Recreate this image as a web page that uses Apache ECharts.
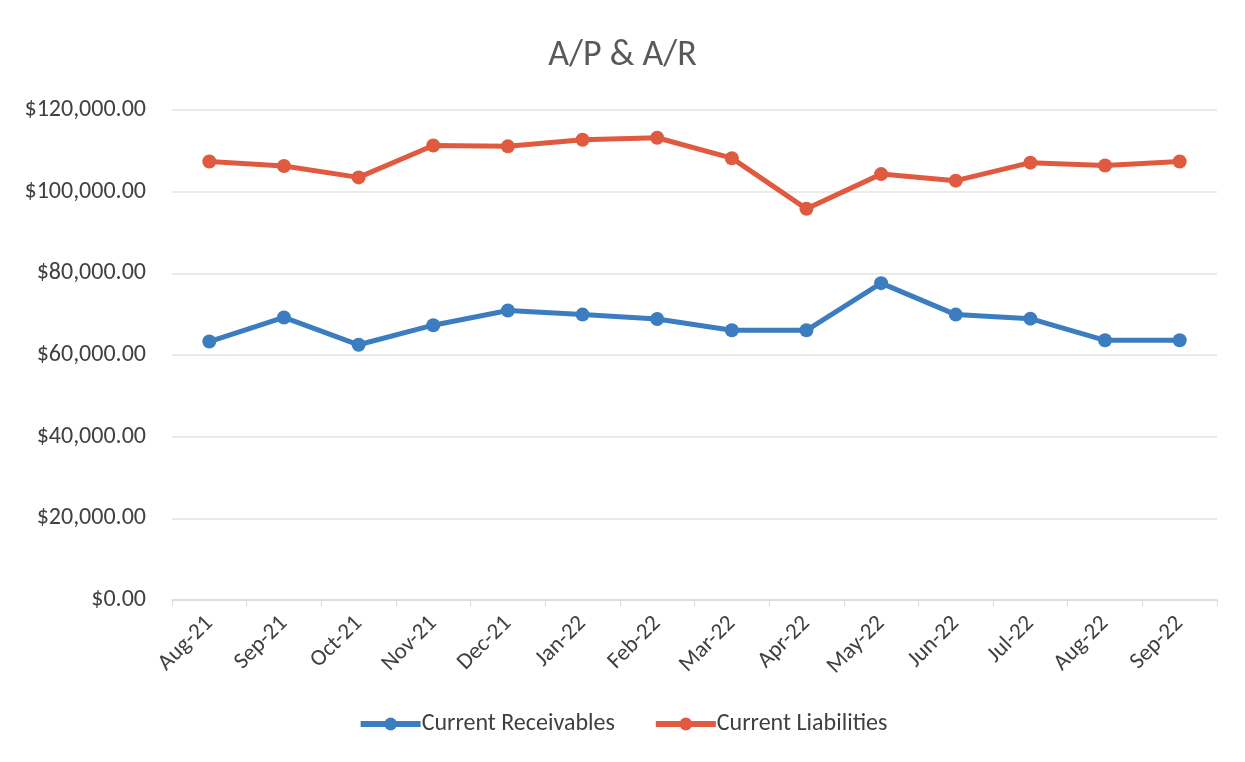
<!DOCTYPE html>
<html><head><meta charset="utf-8">
<script src="https://cdn.jsdelivr.net/npm/echarts@6/dist/echarts.min.js"></script>
<style>html,body{margin:0;padding:0;background:#fff}#c{width:1245px;height:762px}</style>
</head><body><div id="c"></div>
<script>
const categories = ['Aug-21','Sep-21','Oct-21','Nov-21','Dec-21','Jan-22','Feb-22','Mar-22','Apr-22','May-22','Jun-22','Jul-22','Aug-22','Sep-22'];
const receivables = [63300, 69200, 62500, 67300, 70900, 69900, 68800, 66050, 66050, 77600, 69900, 68900, 63600, 63600];
const liabilities = [107400, 106300, 103500, 111300, 111100, 112700, 113200, 108200, 95800, 104300, 102700, 107100, 106400, 107400];
const yTicks = { min: 0, max: 120000, interval: 20000 };

const font = 'Carlito, Calibri, "Open Sans", "Noto Sans", sans-serif';
function money(v){ return '$' + v.toLocaleString('en-US',{minimumFractionDigits:2, maximumFractionDigits:2}); }

const chart = echarts.init(document.getElementById('c'));
chart.setOption({
  backgroundColor: '#ffffff',
  title: { text: 'A/P & A/R', left: 'center', top: 33, textStyle: { fontFamily: font, fontSize: 36, fontWeight: 'normal', color: '#595959' } },
  grid: { left: 172, right: 28, top: 110, bottom: 162 },
  legend: {
    top: 707, left: 'center', itemWidth: 60, itemHeight: 16, itemGap: 38,
    lineStyle: { width: 6 },
    textStyle: { fontFamily: font, fontSize: 24, color: '#404040', padding: [0,0,0,-4] },
    data: ['Current Receivables', 'Current Liabilities']
  },
  xAxis: {
    type: 'category', data: categories, boundaryGap: true,
    axisLine: { lineStyle: { color: '#d9d9d9', width: 1.5 } },
    axisTick: { show: true, length: 6, lineStyle: { color: '#d9d9d9' } },
    axisLabel: { rotate: 45, fontFamily: font, fontSize: 23, color: '#404040', margin: 20, interval: 0 }
  },
  yAxis: {
    type: 'value', min: yTicks.min, max: yTicks.max, interval: yTicks.interval,
    axisLine: { show: false }, axisTick: { show: false },
    splitLine: { lineStyle: { color: '#e3e3e3', width: 1.5 } },
    axisLabel: { formatter: money, fontFamily: font, fontSize: 24, color: '#404040', margin: 26 }
  },
  series: [
    { name: 'Current Receivables', type: 'line', data: receivables, symbol: 'circle', symbolSize: 14,
      lineStyle: { width: 5, color: '#3b7dc0' }, itemStyle: { color: '#3b7dc0' } },
    { name: 'Current Liabilities', type: 'line', data: liabilities, symbol: 'circle', symbolSize: 14,
      lineStyle: { width: 5, color: '#e05a40' }, itemStyle: { color: '#e05a40' } }
  ],
  animation: false
});
</script></body></html>
